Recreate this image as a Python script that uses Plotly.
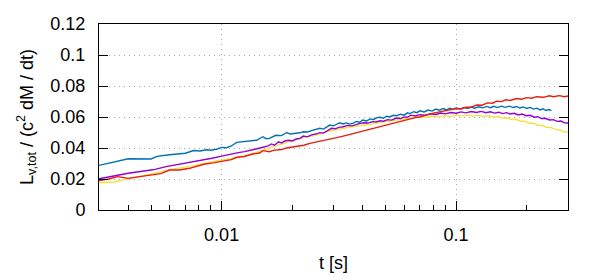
import math
import plotly.graph_objects as go

# ---- data ----
blue_t = [0.0030, 0.0040, 0.0050, 0.0053, 0.0060, 0.0070, 0.0076, 0.0081, 0.0086, 0.0090,
          0.0095, 0.0100, 0.0105, 0.0110, 0.0116, 0.0125, 0.0132, 0.0141, 0.0150, 0.0155,
          0.0160, 0.0165, 0.0170, 0.0180, 0.0190, 0.0196, 0.0205, 0.0215, 0.0223, 0.0232,
          0.0242, 0.0252, 0.0262, 0.0272, 0.0282, 0.0289, 0.0300, 0.0310, 0.0319, 0.0330,
          0.0340, 0.0352, 0.0364, 0.0376, 0.0388, 0.0400, 0.0415, 0.0430, 0.0445, 0.0460,
          0.0473, 0.0490, 0.0505, 0.0520, 0.0540, 0.0557, 0.0580, 0.0600, 0.0620, 0.0635,
          0.0660, 0.0680, 0.0700, 0.0730, 0.0760, 0.0790, 0.0820, 0.0850, 0.0880, 0.0910,
          0.0940, 0.0970, 0.1000, 0.1040, 0.1080, 0.1120, 0.1160, 0.1200, 0.1250, 0.1300,
          0.1350, 0.1400, 0.1450, 0.1500, 0.1560, 0.1620, 0.1690, 0.1750, 0.1810, 0.1870,
          0.1930, 0.2000, 0.2070, 0.2140, 0.2210, 0.2280, 0.2350, 0.2420, 0.2490, 0.2550]
blue_v = [0.0288, 0.0331, 0.0329, 0.0346, 0.0356, 0.0366, 0.0384, 0.0381, 0.0389, 0.0386,
          0.0392, 0.0404, 0.0402, 0.0413, 0.0436, 0.0440, 0.0444, 0.0450, 0.0473, 0.0460,
          0.0462, 0.0470, 0.0482, 0.0480, 0.0500, 0.0490, 0.0493, 0.0498, 0.0505, 0.0503,
          0.0512, 0.0518, 0.0527, 0.0522, 0.0538, 0.0548, 0.0543, 0.0556, 0.0563, 0.0555,
          0.0562, 0.0554, 0.0560, 0.0571, 0.0566, 0.0581, 0.0575, 0.0588, 0.0584, 0.0596,
          0.0598, 0.0592, 0.0605, 0.0600, 0.0611, 0.0608, 0.0618, 0.0612, 0.0627, 0.0622,
          0.0634, 0.0628, 0.0640, 0.0633, 0.0645, 0.0638, 0.0651, 0.0644, 0.0655, 0.0646,
          0.0657, 0.0649, 0.0658, 0.0651, 0.0662, 0.0655, 0.0664, 0.0657, 0.0666, 0.0659,
          0.0668, 0.0660, 0.0669, 0.0661, 0.0670, 0.0662, 0.0670, 0.0661, 0.0668, 0.0658,
          0.0665, 0.0655, 0.0662, 0.0651, 0.0657, 0.0646, 0.0653, 0.0642, 0.0648, 0.0641]

purple_t = [0.0030, 0.0040, 0.0050, 0.0052, 0.0058, 0.0070, 0.0080, 0.0085, 0.0091, 0.0100,
            0.0110, 0.0118, 0.0125, 0.0132, 0.0139, 0.0150, 0.0158, 0.0163, 0.0168, 0.0175,
            0.0180, 0.0186, 0.0193, 0.0200, 0.0208, 0.0216, 0.0223, 0.0232, 0.0242, 0.0252,
            0.0262, 0.0272, 0.0282, 0.0294, 0.0305, 0.0316, 0.0330, 0.0345, 0.0360, 0.0375,
            0.0389, 0.0405, 0.0420, 0.0440, 0.0457, 0.0473, 0.0490, 0.0510, 0.0530, 0.0557,
            0.0580, 0.0600, 0.0620, 0.0640, 0.0670, 0.0700, 0.0740, 0.0780, 0.0820, 0.0860,
            0.0900, 0.0950, 0.1000, 0.1050, 0.1100, 0.1160, 0.1220, 0.1280, 0.1340, 0.1400,
            0.1460, 0.1520, 0.1580, 0.1640, 0.1700, 0.1770, 0.1840, 0.1910, 0.1990, 0.2070,
            0.2150, 0.2230, 0.2310, 0.2400, 0.2500, 0.2600, 0.2700, 0.2800, 0.2900, 0.3000]
purple_v = [0.0202, 0.0237, 0.0258, 0.0262, 0.0280, 0.0301, 0.0318, 0.0323, 0.0334, 0.0348,
            0.0358, 0.0370, 0.0377, 0.0387, 0.0392, 0.0405, 0.0414, 0.0426, 0.0418, 0.0440,
            0.0432, 0.0445, 0.0450, 0.0445, 0.0458, 0.0462, 0.0477, 0.0472, 0.0485, 0.0490,
            0.0499, 0.0496, 0.0512, 0.0527, 0.0524, 0.0533, 0.0537, 0.0546, 0.0543, 0.0554,
            0.0559, 0.0563, 0.0561, 0.0570, 0.0568, 0.0576, 0.0573, 0.0583, 0.0580, 0.0593,
            0.0590, 0.0601, 0.0598, 0.0612, 0.0607, 0.0615, 0.0611, 0.0621, 0.0616, 0.0626,
            0.0620, 0.0629, 0.0624, 0.0633, 0.0627, 0.0635, 0.0629, 0.0636, 0.0628, 0.0634,
            0.0625, 0.0631, 0.0622, 0.0628, 0.0619, 0.0624, 0.0613, 0.0619, 0.0608, 0.0611,
            0.0599, 0.0602, 0.0590, 0.0592, 0.0581, 0.0583, 0.0572, 0.0574, 0.0562, 0.0561]

yellow_t = [0.0030, 0.0035, 0.0039, 0.0045, 0.0052, 0.0061, 0.0070, 0.0077, 0.0085, 0.0092,
            0.0100, 0.0110, 0.0118, 0.0128, 0.0139, 0.0150, 0.0163, 0.0173, 0.0186, 0.0196,
            0.0205, 0.0214, 0.0223, 0.0236, 0.0250, 0.0262, 0.0276, 0.0290, 0.0309, 0.0325,
            0.0340, 0.0360, 0.0389, 0.0410, 0.0430, 0.0450, 0.0473, 0.0500, 0.0530, 0.0557,
            0.0590, 0.0620, 0.0660, 0.0700, 0.0750, 0.0800, 0.0850, 0.0900, 0.0950, 0.1000,
            0.1060, 0.1120, 0.1180, 0.1240, 0.1300, 0.1370, 0.1440, 0.1510, 0.1580, 0.1650,
            0.1720, 0.1800, 0.1880, 0.1960, 0.2050, 0.2140, 0.2230, 0.2330, 0.2430, 0.2530,
            0.2640, 0.2750, 0.2870, 0.3000]
yellow_v = [0.0176, 0.0181, 0.0198, 0.0215, 0.0237, 0.0262, 0.0276, 0.0288, 0.0302, 0.0314,
            0.0323, 0.0331, 0.0340, 0.0353, 0.0370, 0.0386, 0.0404, 0.0418, 0.0434, 0.0440,
            0.0452, 0.0458, 0.0469, 0.0476, 0.0480, 0.0490, 0.0503, 0.0510, 0.0520, 0.0526,
            0.0531, 0.0537, 0.0542, 0.0550, 0.0553, 0.0559, 0.0563, 0.0568, 0.0576, 0.0581,
            0.0586, 0.0592, 0.0595, 0.0602, 0.0598, 0.0606, 0.0601, 0.0609, 0.0604, 0.0612,
            0.0606, 0.0613, 0.0606, 0.0612, 0.0604, 0.0608, 0.0600, 0.0603, 0.0593, 0.0595,
            0.0584, 0.0585, 0.0573, 0.0573, 0.0560, 0.0560, 0.0547, 0.0546, 0.0534, 0.0533,
            0.0520, 0.0518, 0.0505, 0.0501]

red_t = [0.0030, 0.0033, 0.0036, 0.0040, 0.0044, 0.0050, 0.0055, 0.0060, 0.0066, 0.0073,
         0.0078, 0.0084, 0.0092, 0.0100, 0.0105, 0.0110, 0.0116, 0.0125, 0.0136, 0.0145,
         0.0150, 0.0160, 0.0166, 0.0172, 0.0180, 0.0189, 0.0196, 0.0210, 0.0224, 0.0238,
         0.0252, 0.0270, 0.0289, 0.0310, 0.0330, 0.0352, 0.0375, 0.0400, 0.0429, 0.0460,
         0.0490, 0.0522, 0.0560, 0.0600, 0.0635, 0.0670, 0.0700, 0.0740, 0.0773, 0.0820,
         0.0870, 0.0920, 0.0970, 0.1000, 0.1050, 0.1100, 0.1160, 0.1222, 0.1290, 0.1360,
         0.1430, 0.1490, 0.1560, 0.1630, 0.1700, 0.1810, 0.1900, 0.2000, 0.2100, 0.2200,
         0.2350, 0.2500, 0.2600, 0.2750, 0.2900, 0.3000]
red_v = [0.0190, 0.0200, 0.0215, 0.0204, 0.0214, 0.0226, 0.0235, 0.0258, 0.0258, 0.0269,
         0.0282, 0.0295, 0.0304, 0.0312, 0.0318, 0.0325, 0.0340, 0.0345, 0.0361, 0.0368,
         0.0383, 0.0376, 0.0385, 0.0387, 0.0390, 0.0400, 0.0404, 0.0407, 0.0418, 0.0430,
         0.0437, 0.0447, 0.0456, 0.0467, 0.0477, 0.0488, 0.0497, 0.0507, 0.0520, 0.0532,
         0.0543, 0.0553, 0.0566, 0.0575, 0.0588, 0.0596, 0.0600, 0.0612, 0.0620, 0.0628,
         0.0636, 0.0641, 0.0649, 0.0655, 0.0652, 0.0663, 0.0664, 0.0677, 0.0676, 0.0691,
         0.0689, 0.0702, 0.0699, 0.0711, 0.0707, 0.0719, 0.0715, 0.0725, 0.0721, 0.0731,
         0.0727, 0.0737, 0.0731, 0.0738, 0.0731, 0.0736]

x_tickvals = [0.01, 0.1]
x_ticktext = ["0.01", "0.1"]
x_minor = [0.004, 0.005, 0.006, 0.007, 0.008, 0.009,
           0.02, 0.03, 0.04, 0.05, 0.06, 0.07, 0.08, 0.09, 0.2, 0.3]
y_tickvals = [0, 0.02, 0.04, 0.06, 0.08, 0.1, 0.12]
y_ticktext = ["0", "0.02", "0.04", "0.06", "0.08", "0.1", "0.12"]

# drawing order: later on top
series = [
    (yellow_t, yellow_v, "#f0e442"),
    (purple_t, purple_v, "#9400d3"),
    (blue_t, blue_v, "#0072b2"),
    (red_t, red_v, "#e51e10"),
]

fig = go.Figure()
for t, v, c in series:
    fig.add_trace(go.Scatter(x=t, y=v, mode="lines",
                             line=dict(color=c, width=1.4), showlegend=False))

font_family = "Liberation Sans, Arial, sans-serif"
# page body has an 8px margin, so the figure is 8px smaller on each side
fig.update_layout(
    width=592, height=272,
    margin=dict(l=91, r=32, t=16, b=70),
    paper_bgcolor="white", plot_bgcolor="white",
    font=dict(family=font_family, size=18, color="black"),
    showlegend=False,
)
fig.update_xaxes(
    type="log", range=[math.log10(0.003), math.log10(0.3)],
    tickmode="array", tickvals=x_tickvals, ticktext=x_ticktext,
    ticks="inside", ticklen=9, tickwidth=1, tickcolor="black",
    ticklabelstandoff=8,
    showline=True, linecolor="black", linewidth=1, mirror=True,
    showgrid=True, gridcolor="#a8a8a8", griddash="1px,4px", gridwidth=1,
    minor=dict(tickvals=x_minor, ticks="inside", ticklen=5, tickcolor="black", showgrid=False),
    zeroline=False, automargin=False,
    title=dict(text="t [s]", font=dict(size=18), standoff=12),
)
fig.update_yaxes(
    range=[0, 0.12],
    tickmode="array", tickvals=y_tickvals, ticktext=y_ticktext,
    ticks="inside", ticklen=9, tickwidth=1, tickcolor="black",
    ticklabelstandoff=9,
    showline=True, linecolor="black", linewidth=1, mirror="ticks",
    showgrid=True, gridcolor="#a8a8a8", griddash="1px,4px", gridwidth=1,
    zeroline=False, automargin=False,
    title=dict(text="L<sub>v,tot</sub> / (c<sup>2</sup> dM / dt)", font=dict(size=18), standoff=12),
)

fig.write_html("out.html")
